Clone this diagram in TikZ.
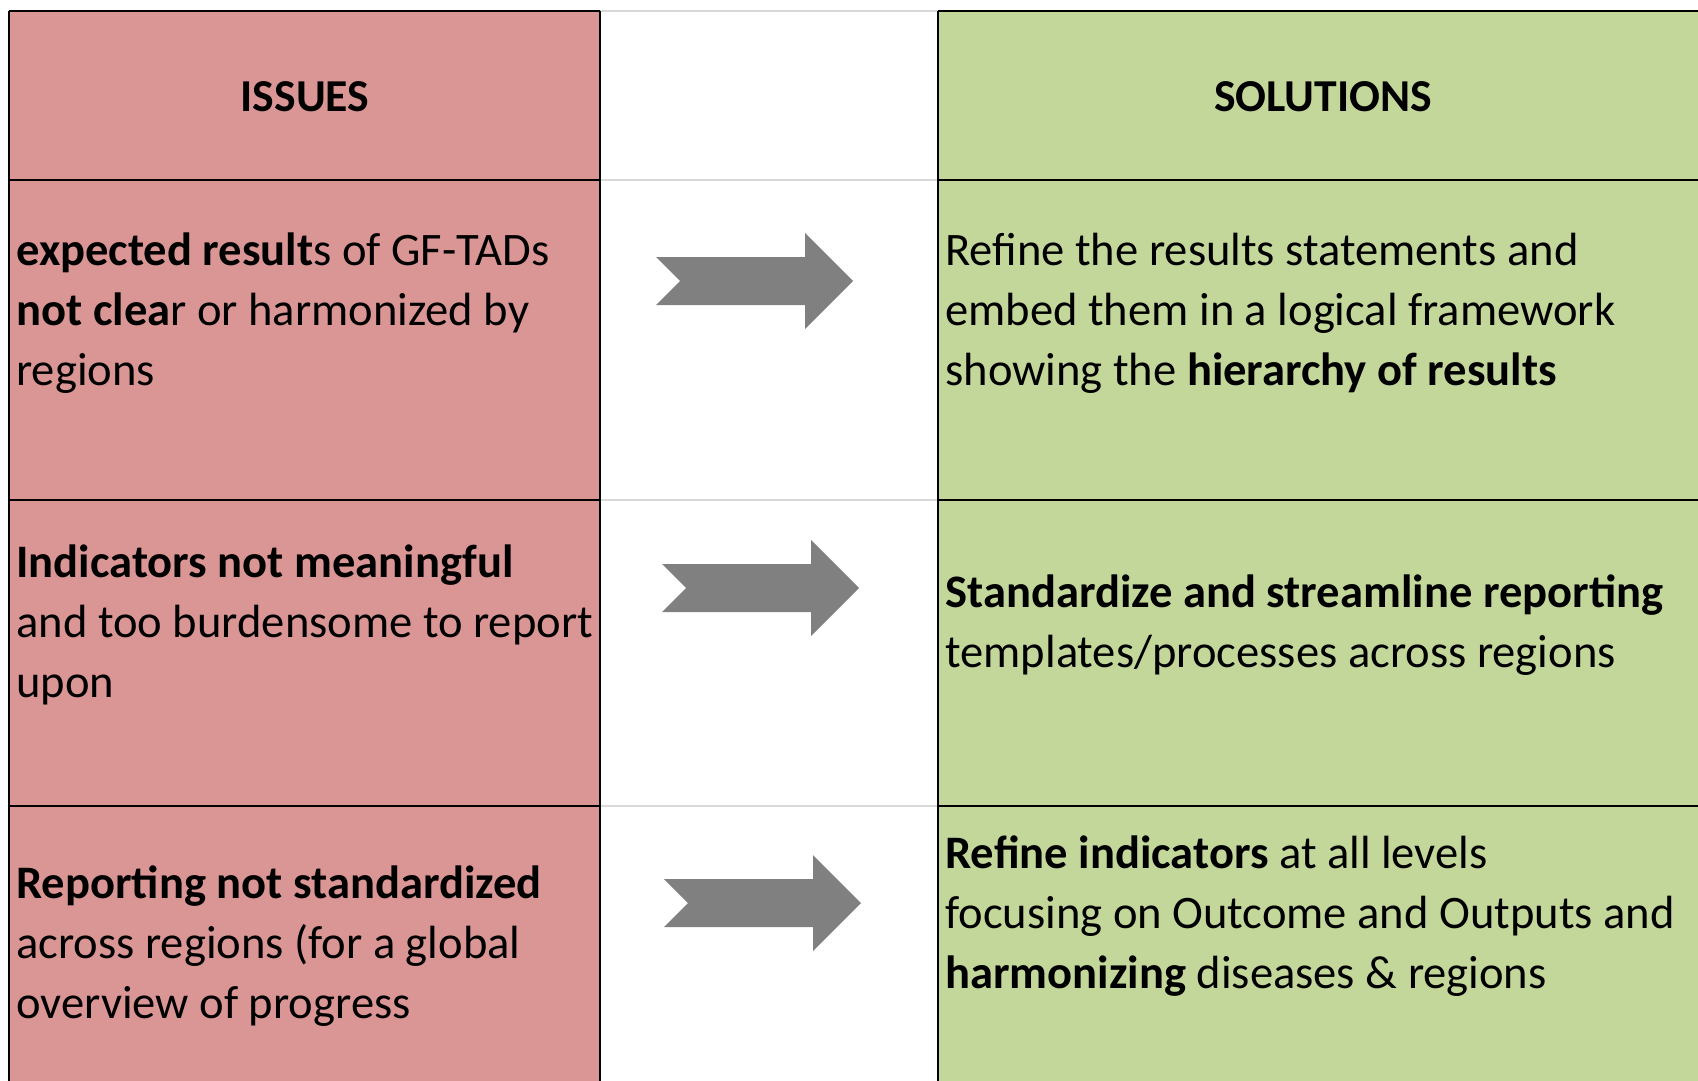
\documentclass[tikz,border=0pt]{standalone}
\usepackage{fontspec}
\setmainfont{Carlito}
\usepackage{xcolor}
\usepackage{tikz}

\definecolor{issuepink}{HTML}{DA9694}
\definecolor{solgreen}{HTML}{C4D79B}
\definecolor{arrowgray}{HTML}{808080}
\definecolor{gridgray}{HTML}{D9D9D9}

\begin{document}
\begin{tikzpicture}[
  celltext/.style={anchor=base west, align=left, inner sep=0pt, font=\fontsize{26.5}{34.1}\selectfont},
  headtext/.style={anchor=base, inner sep=0pt, font=\fontsize{26}{34.1}\selectfont\bfseries},
  cellline/.style={line width=1.3pt},
  softline/.style={gridgray, line width=1.2pt},
  arrowshape/.style={fill=arrowgray}
]

\useasboundingbox (0,0) rectangle (33.96,-21.62);

% Define coordinates for easier positioning
\coordinate (A) at (0.18,-0.22);
\coordinate (B) at (12,-0.22);
\coordinate (C) at (18.76,-0.22);
\coordinate (D) at (33.96,-0.22);
\coordinate (E) at (0.18,-21.62);
\coordinate (F) at (12,-21.62);
\coordinate (G) at (18.76,-21.62);
\coordinate (H) at (33.96,-21.62);

% Fill the two coloured columns
\fill[issuepink] (A) rectangle (F);
\fill[solgreen] (C) rectangle (H);

% Draw the light lines across the middle column
\foreach \y in {-0.22,-3.6,-10,-16.12}
  \draw[softline] (12,\y) -- (18.76,\y);

% Draw the black cell borders
\foreach \y in {-0.22,-3.6,-10,-16.12} {
  \draw[cellline] (0.18,\y) -- (12,\y);
  \draw[cellline] (18.76,\y) -- (33.96,\y);
}
\draw[cellline] (A) -- (E);
\draw[cellline] (B) -- (F);
\draw[cellline] (C) -- (G);

% Draw the notched arrows
\foreach \x/\y in {13.12/-5.62, 13.24/-11.76, 13.28/-18.06}
  \fill[arrowshape] (\x,\y+0.48) -- (\x+2.98,\y+0.48) -- (\x+2.98,\y+0.96)
    -- (\x+3.94,\y) -- (\x+2.98,\y-0.96) -- (\x+2.98,\y-0.48)
    -- (\x,\y-0.48) -- (\x+0.48,\y) -- cycle;

% Add headers
\node[headtext] (issues) at (6.1,-2.23) {ISSUES};
\node[headtext] (solutions) at (26.46,-2.23) {SOLUTIONS};

% Add issues (anchored at the last line)
\node[celltext] (issue1) at (0.32,-7.7) {\textbf{expected result}s of GF-TADs\\ \textbf{not clea}r or harmonized by\\ regions};
\node[celltext] (issue2) at (0.32,-13.94) {\textbf{Indicators not meaningful}\\ and too burdensome to report\\ upon};
\node[celltext] (issue3) at (0.32,-20.36) {\textbf{Reporting not standardized}\\ across regions (for a global\\ overview of progress};

% Add solutions
\node[celltext] (sol1) at (18.9,-7.7) {Refine the results statements and\\ embed them in a logical framework\\ showing the \textbf{hierarchy of results}};
\node[celltext] (sol2) at (18.9,-13.34) {\textbf{Standardize and streamline reporting}\\ templates/processes across regions};
\node[celltext] (sol3) at (18.9,-19.76) {\textbf{Refine indicators} at all levels\\ focusing on Outcome and Outputs and\\ \textbf{harmonizing} diseases \& regions};

\end{tikzpicture}
\end{document}
